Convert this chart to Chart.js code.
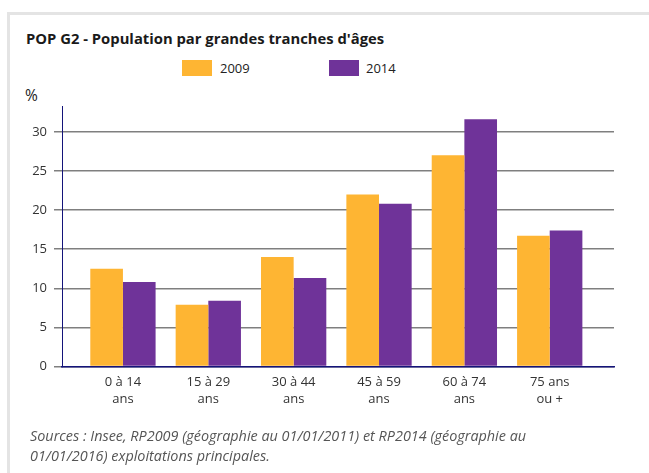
<!DOCTYPE html>
<html>
<head>
<meta charset="utf-8">
<script src="https://cdn.jsdelivr.net/npm/chart.js@4.4.1/dist/chart.umd.min.js"></script>
<style>
  html, body { margin: 0; padding: 0; background: #fff; width: 649px; height: 473px; overflow: hidden; font-family: "Open Sans", sans-serif; }
  #frame { position: absolute; left: 7px; top: 12px; width: 700px; height: 520px; border-left: 3px solid #e4e4e4; border-top: 3px solid #e4e4e4; box-sizing: border-box; }
  #title { position: absolute; left: 26px; top: 27px; font-size: 14.8px; font-weight: bold; color: #1a1a1a; white-space: nowrap; line-height: 22px; }
  .lg-box { position: absolute; top: 60px; width: 30px; height: 16px; }
  .lg-txt { position: absolute; top: 58px; font-size: 13px; color: #222; line-height: 20px; }
  #unit { position: absolute; left: 25px; top: 84px; font-size: 15.5px; color: #222; line-height: 22px; }
  #src { position: absolute; left: 30px; top: 426px; font-size: 14.4px; font-style: italic; color: #555; line-height: 20px; white-space: nowrap; }
  #wrap { position: absolute; left: 0; top: 0; width: 649px; height: 473px; }
</style>
</head>
<body>
<div id="frame"></div>
<div id="title">POP G2 - Population par grandes tranches d'âges</div>
<div id="legend"></div>
<div id="unit">%</div>
<div id="wrap"><canvas id="c" width="649" height="473"></canvas></div>
<div id="src">Sources : Insee, RP2009 (géographie au 01/01/2011) et RP2014 (géographie au<br>01/01/2016) exploitations principales.</div>
<script>
const categories = [["0 à 14", "ans"], ["15 à 29", "ans"], ["30 à 44", "ans"], ["45 à 59", "ans"], ["60 à 74", "ans"], ["75 ans", "ou +"]];
const seriesNames = ["2009", "2014"];
const values2009 = [12.5, 7.9, 14.0, 22.0, 27.0, 16.7];
const values2014 = [10.8, 8.4, 11.3, 20.8, 31.6, 17.4];
const yTicks = [0, 5, 10, 15, 20, 25, 30];
const colors = ["#FEB533", "#6F3399"];

// HTML legend from series names/colors
const legendPos = [[182, 220], [329, 366]];
const lg = document.getElementById('legend');
seriesNames.forEach((name, i) => {
  const b = document.createElement('div');
  b.className = 'lg-box';
  b.style.left = legendPos[i][0] + 'px';
  b.style.background = colors[i];
  lg.appendChild(b);
  const t = document.createElement('div');
  t.className = 'lg-txt';
  t.style.left = legendPos[i][1] + 'px';
  t.textContent = name;
  lg.appendChild(t);
});

const toPoints = arr => arr.map((v, i) => ({ x: i, y: v }));

new Chart(document.getElementById('c'), {
  type: 'bar',
  data: {
    datasets: [
      { label: seriesNames[0], data: toPoints(values2009), backgroundColor: colors[0], borderWidth: 0 },
      { label: seriesNames[1], data: toPoints(values2014), backgroundColor: colors[1], borderWidth: 0 }
    ]
  },
  options: {
    responsive: false,
    animation: false,
    events: [],
    categoryPercentage: 0.765,
    barPercentage: 1.0,
    layout: { padding: { left: 0, top: 106, right: 35, bottom: 56.5 } },
    plugins: { legend: { display: false }, tooltip: { enabled: false }, title: { display: false } },
    scales: {
      x: {
        type: 'linear',
        min: -0.714,
        max: 5.753,
        offset: false,
        z: 2,
        grid: { display: false, drawTicks: false },
        border: { display: true, color: '#14147a', width: 1.5 },
        afterFit: s => { s.height = 50; },
        ticks: {
          stepSize: 1,
          includeBounds: false,
          autoSkip: false,
          maxRotation: 0,
          padding: 8,
          color: '#333',
          font: { family: "'Open Sans', sans-serif", size: 13, lineHeight: 1.25 },
          callback: v => (Number.isInteger(v) && categories[v]) ? categories[v] : null
        }
      },
      y: {
        type: 'linear',
        min: 0,
        max: 33.3,
        z: 1,
        afterFit: s => { s.width = 62; },
        afterBuildTicks: s => { s.ticks = yTicks.map(v => ({ value: v })); },
        grid: { color: 'rgba(0,0,0,0.5)', lineWidth: 1.5, tickLength: 8, tickColor: 'rgba(0,0,0,0.5)' },
        border: { display: true, color: '#14147a', width: 1 },
        ticks: {
          stepSize: 5,
          padding: 7,
          color: '#333',
          font: { family: "'Open Sans', sans-serif", size: 13 }
        }
      }
    }
  }
});
</script>
</body>
</html>
